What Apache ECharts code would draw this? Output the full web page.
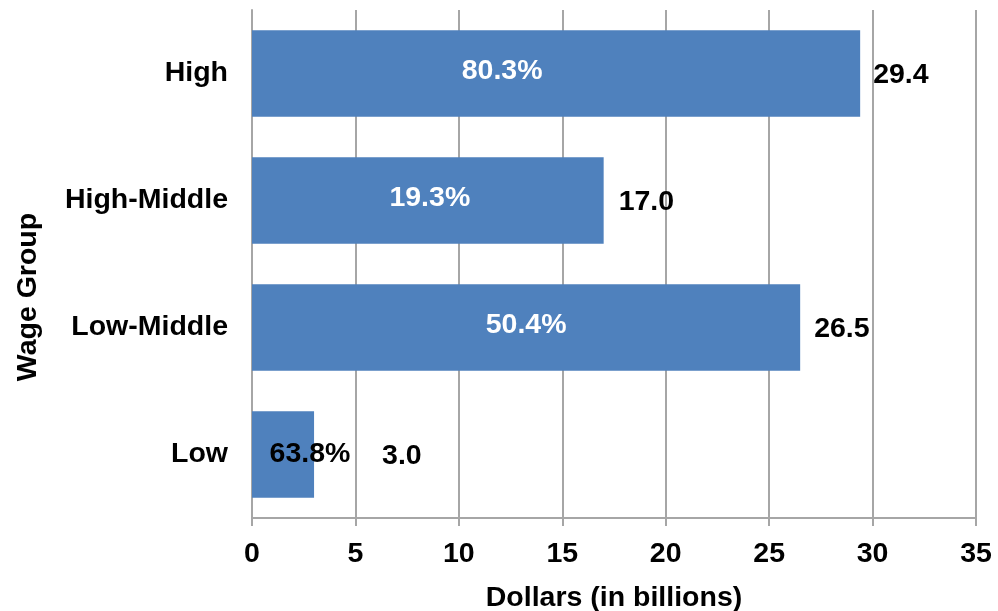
<!DOCTYPE html>
<html>
<head>
<meta charset="utf-8">
<title>Wage Group</title>
<script src="https://cdn.jsdelivr.net/npm/echarts@6/dist/echarts.min.js"></script>
<style>
  html, body { margin: 0; padding: 0; background: #ffffff; }
  #chart { width: 998px; height: 611px; }
</style>
</head>
<body>
<div id="chart"></div>
<script>
// Wage groups, top to bottom
const categories = ['High', 'High-Middle', 'Low-Middle', 'Low'];
// Dollars (in billions) per wage group
const dollars = [29.4, 17.0, 26.5, 3.0];
// Share shown inside each bar
const shares = ['80.3%', '19.3%', '50.4%', '63.8%'];
// Axis ticks
const xMin = 0, xMax = 35, xStep = 5;

const FONT = '"Liberation Sans", Arial, sans-serif';
const FS = 28.5;
const BAR = '#4F81BD';

// Per-bar placement tweaks for the labels
const shareOffsets = [[-54, -2], [2, -2], [0, -2], [27, 0]];
const shareColors = ['#ffffff', '#ffffff', '#ffffff', '#000000'];
const valueDistances = [13, 15, 14, 68];

const chart = echarts.init(document.getElementById('chart'), null, { renderer: 'canvas' });

chart.setOption({
  animation: false,
  backgroundColor: '#ffffff',
  textStyle: { fontFamily: FONT },
  grid: {
    left: 252, right: 22, top: 10, bottom: 93,
    containLabel: false,
    outerBoundsMode: 'none'
  },
  xAxis: {
    type: 'value',
    min: xMin,
    max: xMax,
    interval: xStep,
    name: 'Dollars (in billions)',
    nameLocation: 'middle',
    nameGap: 66,
    nameTextStyle: { fontFamily: FONT, fontWeight: 'bold', fontSize: FS, color: '#000' },
    axisLine: { show: true, lineStyle: { color: '#a6a6a6', width: 2 } },
    axisTick: { show: true, length: 8, lineStyle: { color: '#a6a6a6', width: 2 } },
    axisLabel: { fontFamily: FONT, fontWeight: 'bold', fontSize: FS, color: '#000', margin: 22 },
    splitLine: { show: true, lineStyle: { color: '#a6a6a6', width: 2 } }
  },
  yAxis: {
    type: 'category',
    data: categories,
    inverse: true,
    axisLine: { show: true, lineStyle: { color: '#a6a6a6', width: 2 } },
    axisTick: { show: false },
    axisLabel: { fontFamily: FONT, fontWeight: 'bold', fontSize: FS, color: '#000', margin: 24 },
    splitLine: { show: false }
  },
  graphic: [{
    type: 'text',
    x: 28,
    y: 297,
    rotation: Math.PI / 2,
    style: {
      text: 'Wage Group',
      font: 'bold ' + FS + 'px ' + FONT,
      fill: '#000',
      align: 'center',
      verticalAlign: 'middle'
    }
  }],
  series: [
    {
      name: 'Dollars',
      type: 'bar',
      barCategoryGap: '32%',
      itemStyle: { color: BAR },
      data: dollars.map((v, i) => ({
        value: v,
        label: { distance: valueDistances[i] }
      })),
      label: {
        show: true,
        position: 'right',
        fontFamily: FONT,
        fontWeight: 'bold',
        fontSize: FS,
        color: '#000',
        offset: [0, 2],
        formatter: p => p.value.toFixed(1)
      },
      z: 2
    },
    {
      name: 'Share',
      type: 'bar',
      barGap: '-100%',
      barCategoryGap: '32%',
      itemStyle: { color: 'rgba(0,0,0,0)' },
      data: dollars.map((v, i) => ({
        value: v,
        label: { offset: shareOffsets[i], color: shareColors[i] }
      })),
      label: {
        show: true,
        position: 'inside',
        fontFamily: FONT,
        fontWeight: 'bold',
        fontSize: FS,
        formatter: p => shares[p.dataIndex]
      },
      silent: true,
      z: 3
    }
  ]
});
</script>
</body>
</html>
